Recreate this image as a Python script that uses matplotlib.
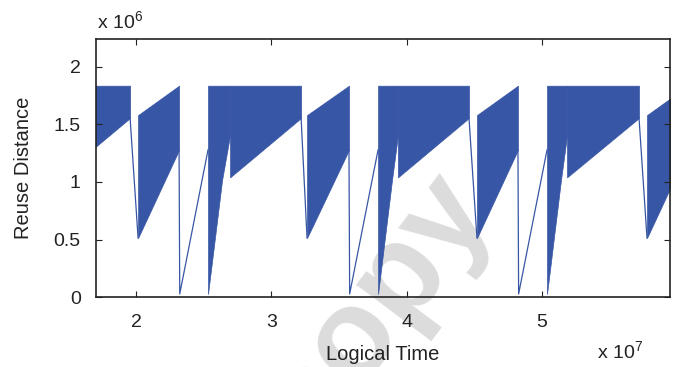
import numpy as np
import matplotlib
matplotlib.use('Agg')
import matplotlib.pyplot as plt

plt.rcParams['font.family'] = ['Liberation Sans', 'DejaVu Sans']
plt.rcParams['mathtext.fontset'] = 'custom'
plt.rcParams['mathtext.rm'] = 'Liberation Sans'
plt.rcParams['mathtext.default'] = 'regular'

blue = '#3756a5'

# x in units of 1e7, y in units of 1e6
# rising band after each drop (B)
b_x0 = [2.015, 3.264, 4.520, 5.777]
b_x1 = [2.318, 3.574, 4.823, 6.080]
b_up = [1.58, 1.835]
b_lo = [0.514, 1.278]

# narrow spike band rising from zero (C1)
c1_x0 = [2.532, 3.789, 5.038]
c1_xm = [2.636, 3.892, 5.141]
c1_x1 = [2.695, 3.936, 5.186]
c1_lo = [0.029, 1.017, 1.408]

# wide band (C2), first one starts left of the axes
c2_x0 = [1.431, 2.695, 3.936, 5.186]
c2_x1 = [1.956, 3.220, 4.461, 5.718]
c2_lo = [1.040, 1.555]
top = 1.835

# thin connecting lines
drop_x = [2.318, 3.574, 4.823]
drop_bot = 0.029

fig = plt.figure(figsize=(6.76, 3.67), dpi=100)
ax = fig.add_axes([96/676, 1-297.3/367, 574/676, 258.3/367])
ax.patch.set_alpha(0)

# watermark
fig.text(0.558, 0.16, 'copy', rotation=53, rotation_mode='anchor',
         ha='center', va='center', fontsize=92, fontweight='bold',
         color='#dcdcdc', zorder=-5)

for i in range(len(b_x0)):
    ax.fill_between([b_x0[i], b_x1[i]], b_lo, b_up, color=blue, lw=0.5)
for i in range(len(c1_x0)):
    ax.fill_between([c1_x0[i], c1_xm[i], c1_x1[i]], c1_lo, top, color=blue, lw=0.5)
for i in range(len(c2_x0)):
    ax.fill_between([c2_x0[i], c2_x1[i]], c2_lo, top, color=blue, lw=0.5)

# transitions: end of wide band down to start of rising band
for i in range(len(c2_x1)):
    ax.plot([c2_x1[i], b_x0[i]], [c2_lo[1], b_lo[0]], color=blue, lw=0.9)
# drop to zero and climb back to the spike band
for i in range(len(drop_x)):
    ax.plot([drop_x[i], drop_x[i] + 0.005, c1_x0[i]],
            [b_lo[1], drop_bot, b_lo[1]], color=blue, lw=0.9)

ax.set_xlim(1.704, 5.947)
ax.set_ylim(0, 2.24)
ax.set_xticks([2, 3, 4, 5])
ax.set_xticklabels(['2', '3', '4', '5'])
ax.set_yticks([0, 0.5, 1, 1.5, 2])
ax.set_yticklabels(['0', '0.5', '1', '1.5', '2'])
ax.tick_params(direction='in', length=4, width=0.8, top=True, right=True,
               labelsize=14, colors='#222222')
ax.tick_params(axis='x', pad=12)
ax.tick_params(axis='y', pad=11)
for s in ax.spines.values():
    s.set_linewidth(1.2)
    s.set_color('#222222')

ax.set_xlabel('Logical Time', fontsize=14.5, color='#222222')
ax.set_ylabel('Reuse Distance', fontsize=14.5, color='#222222')
ax.xaxis.set_label_coords(0.5, (297.3 - 345) / 258.3)
ax.yaxis.set_label_coords((33 - 96) / 574, 0.5)

fig.text(97/676, 1-28/367, 'x 10$^6$', fontsize=14, color='#222222', va='baseline')
fig.text(597/676, 1-358/367, 'x 10$^7$', fontsize=14, color='#222222', va='baseline')

fig.savefig('out.png', dpi=100)
